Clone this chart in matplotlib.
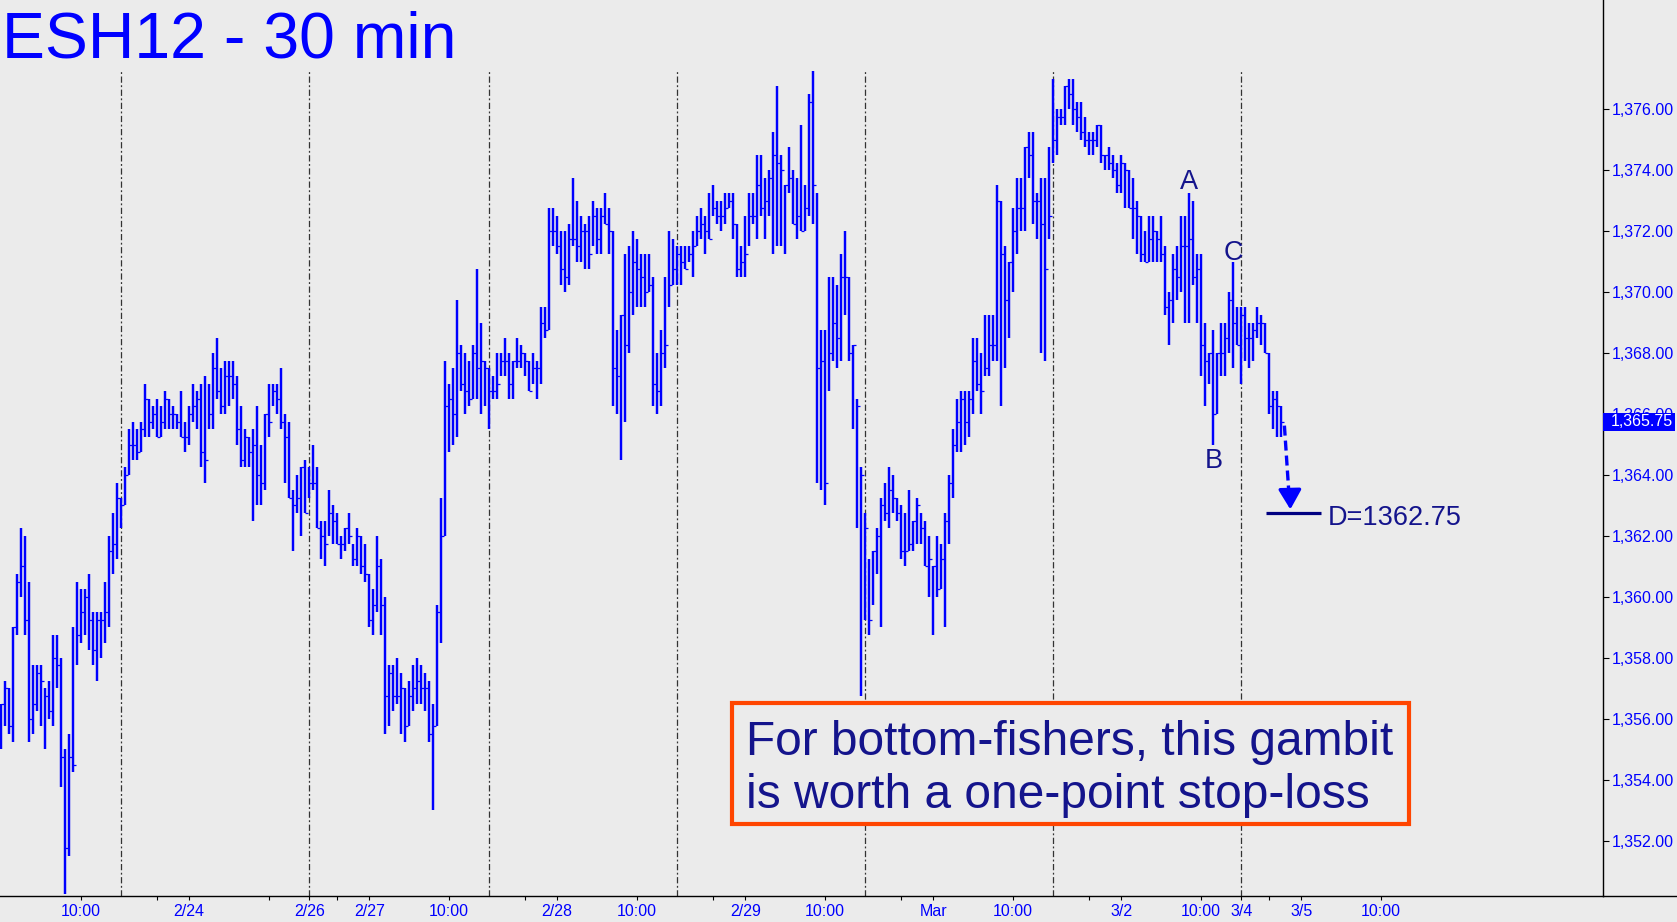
import matplotlib

matplotlib.use("Agg")
import matplotlib.pyplot as plt
from matplotlib.lines import Line2D
from matplotlib.patches import Rectangle
from matplotlib.ticker import FixedLocator, FuncFormatter
from matplotlib.transforms import blended_transform_factory

plt.rcParams["font.family"] = ["Liberation Sans", "DejaVu Sans"]

# ---- data: ESH12 30-minute bars (index = bar number) ----
bar_high = [
    1356.5, 1357.25, 1357.0, 1359.0, 1360.75, 1362.25, 1362.0, 1360.5, 1357.75, 1357.75,
    1357.75, 1357.0, 1357.25, 1358.75, 1358.75, 1358.0, 1355.0, 1355.5, 1359.0, 1360.5,
    1360.25, 1360.25, 1360.75, 1359.5, 1359.5, 1359.5, 1360.5, 1362.0, 1362.75, 1363.75,
    1363.25, 1364.25, 1365.5, 1365.75, 1365.5, 1365.75, 1367.0, 1366.5, 1366.25, 1366.5,
    1366.25, 1366.75, 1366.5, 1366.25, 1366.0, 1366.75, 1365.75, 1366.25, 1367.0, 1366.75,
    1367.0, 1367.25, 1367.0, 1368.0, 1368.5, 1367.5, 1367.75, 1367.75, 1367.75, 1367.25,
    1366.25, 1365.5, 1365.25, 1365.5, 1366.25, 1365.0, 1366.0, 1367.0, 1367.0, 1367.0,
    1367.5, 1366.0, 1365.75, 1363.5, 1364.0, 1364.25, 1364.5, 1364.25, 1365.0, 1364.25,
    1362.5, 1362.5, 1363.5,
    1363.0, 1362.75, 1362.0, 1362.25, 1362.75, 1361.75, 1362.25, 1362.0, 1361.75, 1360.75,
    1360.25, 1362.0, 1361.25, 1360.0, 1357.75, 1357.75, 1358.0, 1357.5, 1357.0, 1357.25,
    1357.75, 1358.0, 1357.75, 1357.5, 1357.25, 1356.5, 1359.75, 1363.25, 1367.75, 1367.0,
    1367.5, 1369.75, 1368.25, 1368.0, 1367.75, 1368.25, 1370.75, 1369.0, 1367.75, 1367.5,
    1367.25, 1368.0, 1368.0, 1368.5, 1368.0, 1367.75, 1368.5, 1368.25, 1368.0, 1367.75,
    1368.0, 1367.75, 1369.5, 1369.5, 1372.75, 1372.75, 1372.5, 1372.0, 1372.0, 1372.25,
    1373.75, 1373.0, 1372.5, 1372.25, 1372.5, 1373.0, 1372.75, 1372.75, 1373.25, 1372.75,
    1372.0, 1368.75, 1369.25, 1371.25, 1371.5, 1372.0, 1371.75, 1371.25, 1371.25, 1371.25,
    1370.5,
    1368.0, 1368.75, 1370.5, 1372.0, 1371.75, 1371.5, 1371.5, 1371.5, 1371.5, 1372.0,
    1372.5, 1372.75, 1372.5, 1373.25, 1373.5, 1373.0, 1373.0, 1373.25, 1373.25, 1373.25,
    1372.25, 1371.5, 1372.5, 1373.25, 1373.25, 1374.5, 1374.5, 1373.75, 1374.0, 1375.25,
    1376.75, 1374.5, 1373.5, 1374.75, 1374.0, 1373.75, 1375.5, 1373.5, 1376.5, 1377.25,
    1373.25, 1368.75,
    1368.75, 1370.5, 1370.5, 1370.25, 1371.25, 1372.0, 1370.5, 1368.25, 1366.5, 1364.25,
    1362.75, 1361.25, 1361.5, 1362.25, 1363.25, 1363.75, 1364.25, 1364.0, 1363.25, 1363.0,
    1362.75, 1363.5, 1362.5, 1363.25, 1362.75, 1362.5, 1362.0, 1361.0, 1362.0, 1361.75,
    1362.75, 1364.0, 1365.5, 1366.5, 1366.75, 1366.75, 1366.75, 1368.5, 1368.5, 1368.0,
    1369.25,
    1369.25, 1369.25, 1373.5, 1373.0, 1371.5, 1371.0, 1372.75, 1373.75, 1373.75, 1374.75,
    1375.25, 1375.25, 1373.25, 1373.75, 1373.75, 1374.75, 1377.0, 1376.0, 1376.0, 1376.75,
    1377.0, 1377.0, 1376.25, 1376.25, 1375.75, 1375.25, 1375.25, 1375.5, 1375.5, 1374.5,
    1374.75, 1374.5, 1374.25, 1374.5, 1374.25, 1374.0, 1373.75, 1373.0, 1372.5, 1372.0,
    1372.5, 1372.5, 1372.0, 1372.5, 1371.5, 1370.0, 1371.25, 1371.5, 1372.5, 1372.5,
    1373.25, 1373.0, 1371.25, 1371.25, 1369.0, 1368.0, 1368.75, 1368.0, 1369.0, 1369.0,
    1370.0, 1371.0, 1369.5, 1369.5, 1369.5, 1369.0, 1369.0, 1369.5, 1369.25, 1369.0,
    1368.0, 1366.75, 1366.75, 1366.25,
]
bar_low = [
    1355.0, 1355.75, 1355.5, 1355.25, 1358.75, 1360.0, 1358.75, 1355.25, 1355.5, 1356.25,
    1355.75, 1355.0, 1356.0, 1355.75, 1357.0, 1353.75, 1350.25, 1351.5, 1354.25, 1357.75,
    1358.5, 1358.75, 1358.25, 1357.75, 1357.25, 1358.0, 1358.5, 1359.0, 1360.75, 1361.25,
    1362.25, 1363.0, 1364.0, 1364.5, 1364.5, 1364.75, 1365.25, 1365.25, 1365.5, 1365.25,
    1365.25, 1365.5, 1365.5, 1365.5, 1365.5, 1365.25, 1364.75, 1365.0, 1365.75, 1365.5,
    1364.25, 1363.75, 1365.5, 1365.5, 1366.5, 1366.0, 1366.0, 1366.25, 1366.5, 1365.0,
    1364.25, 1364.25, 1364.25, 1362.5, 1363.0, 1363.0, 1363.5, 1365.25, 1366.25, 1366.0,
    1365.5, 1363.75, 1363.25, 1361.5, 1362.75, 1362.0, 1362.75, 1363.25, 1363.5, 1362.25,
    1361.25, 1361.0, 1362.0,
    1361.75, 1361.75, 1361.25, 1361.5, 1361.75, 1361.0, 1361.0, 1360.75, 1360.5, 1359.0,
    1358.75, 1359.5, 1358.75, 1355.5, 1355.75, 1356.25, 1356.5, 1355.5, 1355.25, 1355.75,
    1356.25, 1356.5, 1356.5, 1356.25, 1355.25, 1353.0, 1355.75, 1358.5, 1362.0, 1364.75,
    1365.0, 1365.25, 1366.75, 1366.0, 1366.25, 1366.5, 1366.5, 1366.0, 1366.25, 1365.5,
    1366.5, 1366.5, 1367.25, 1367.25, 1366.5, 1366.5, 1367.5, 1367.5, 1367.25, 1366.75,
    1367.0, 1366.5, 1367.0, 1368.5, 1368.75, 1371.5, 1371.25, 1370.25, 1370.0, 1370.25,
    1371.5, 1371.0, 1371.0, 1370.75, 1370.75, 1371.5, 1371.25, 1371.25, 1372.25, 1371.25,
    1366.25, 1366.0, 1364.5, 1365.75, 1368.0, 1369.25, 1369.5, 1369.5, 1369.5, 1370.0,
    1366.25,
    1366.0, 1366.25, 1367.5, 1369.5, 1370.25, 1370.25, 1370.25, 1370.75, 1371.0, 1370.5,
    1371.5, 1371.75, 1371.25, 1371.75, 1372.5, 1372.25, 1372.0, 1372.25, 1372.75, 1371.75,
    1370.5, 1370.5, 1370.5, 1371.5, 1372.25, 1371.75, 1372.5, 1371.75, 1372.5, 1371.25,
    1371.5, 1371.5, 1371.25, 1373.25, 1372.25, 1371.75, 1372.0, 1372.0, 1372.5, 1372.25,
    1363.75, 1363.5,
    1363.0, 1366.75, 1367.75, 1367.5, 1367.75, 1369.25, 1367.75, 1365.5, 1362.25, 1356.75,
    1359.25, 1358.75, 1359.75, 1360.75, 1359.0, 1362.5, 1362.25, 1362.75, 1362.5, 1361.25,
    1361.0, 1361.5, 1361.5, 1361.75, 1361.75, 1361.0, 1360.0, 1358.75, 1360.0, 1360.25,
    1359.0, 1361.75, 1363.25, 1364.75, 1364.75, 1365.0, 1365.25, 1366.0, 1366.75, 1366.0,
    1367.25,
    1367.25, 1367.75, 1367.75, 1366.25, 1367.5, 1368.5, 1370.0, 1371.25, 1372.0, 1372.0,
    1373.75, 1372.25, 1371.75, 1368.0, 1367.75, 1371.75, 1374.25, 1374.5, 1375.5, 1375.5,
    1376.0, 1375.5, 1375.25, 1375.0, 1374.75, 1374.5, 1374.5, 1374.75, 1374.25, 1374.0,
    1374.0, 1373.75, 1373.25, 1373.25, 1372.75, 1372.75, 1371.75, 1371.25, 1371.0, 1371.0,
    1371.0, 1371.0, 1371.0, 1371.0, 1369.25, 1368.25, 1369.0, 1369.75, 1370.0, 1369.0,
    1369.0, 1370.25, 1369.0, 1367.25, 1366.25, 1367.0, 1365.0, 1366.0, 1367.25, 1367.25,
    1368.0, 1367.5, 1368.25, 1367.0, 1367.75, 1367.5, 1367.75, 1368.5, 1368.25, 1368.0,
    1366.0, 1365.5, 1365.25, 1365.25,
]
bar_close = [
    1356.5, 1357.0, 1355.75, 1359.0, 1360.5, 1361.0, 1359.25, 1356.0, 1356.5, 1357.5,
    1357.25, 1356.75, 1356.25, 1358.0, 1357.75, 1354.75, 1351.75, 1354.75, 1354.5, 1358.75,
    1359.5, 1360.0, 1359.25, 1358.25, 1359.25, 1359.25, 1359.5, 1361.5, 1361.75, 1363.25,
    1363.0, 1364.0, 1365.0, 1365.0, 1364.75, 1365.5, 1366.5, 1365.75, 1366.0, 1365.25,
    1365.75, 1366.5, 1366.0, 1366.0, 1365.75, 1365.25, 1365.25, 1366.0, 1366.25, 1366.5,
    1364.75, 1364.5, 1366.0, 1367.5, 1366.75, 1366.25, 1367.25, 1367.25, 1367.0, 1365.5,
    1364.5, 1365.25, 1364.75, 1365.0, 1364.0, 1363.75, 1366.0, 1365.75, 1366.75, 1366.5,
    1365.75, 1365.25, 1363.25, 1363.0, 1363.25, 1364.25, 1362.75, 1363.75, 1363.75, 1362.25,
    1362.0, 1361.75, 1362.75,
    1362.5, 1361.75, 1361.75, 1362.25, 1362.0, 1361.25, 1362.0, 1361.0, 1360.75, 1359.25,
    1359.75, 1361.0, 1359.75, 1356.75, 1357.5, 1356.75, 1356.75, 1357.0, 1355.75, 1356.75,
    1357.0, 1357.25, 1357.0, 1357.0, 1355.5, 1355.75, 1359.5, 1362.0, 1366.25, 1366.5,
    1366.0, 1368.0, 1367.0, 1366.75, 1366.5, 1368.0, 1367.5, 1367.75, 1367.5, 1366.75,
    1366.75, 1367.0, 1367.75, 1367.75, 1367.0, 1367.75, 1367.75, 1368.0, 1367.75, 1366.75,
    1367.5, 1367.5, 1369.0, 1368.75, 1372.0, 1372.0, 1371.5, 1370.75, 1370.5, 1371.75,
    1371.75, 1371.5, 1372.0, 1372.0, 1371.25, 1372.5, 1371.75, 1372.5, 1372.25, 1372.0,
    1367.5, 1367.25, 1369.25, 1368.25, 1370.0, 1371.0, 1370.75, 1370.5, 1370.0, 1370.25,
    1367.0,
    1366.75, 1368.0, 1368.25, 1370.25, 1370.75, 1371.25, 1371.0, 1370.75, 1371.25, 1371.5,
    1372.0, 1372.25, 1372.0, 1371.75, 1372.75, 1372.5, 1372.5, 1372.75, 1373.0, 1372.25,
    1370.75, 1371.0, 1371.25, 1372.5, 1372.5, 1373.5, 1372.75, 1373.0, 1373.75, 1374.5,
    1374.25, 1374.0, 1373.5, 1373.75, 1372.25, 1372.5, 1372.0, 1372.75, 1376.25, 1373.5,
    1367.5, 1367.75,
    1363.75, 1368.0, 1369.0, 1368.5, 1370.5, 1370.5, 1368.0, 1368.25, 1366.25, 1364.0,
    1362.25, 1359.25, 1361.5, 1362.0, 1363.0, 1362.75, 1363.5, 1363.25, 1362.75, 1361.5,
    1361.5, 1361.75, 1362.5, 1363.0, 1362.25, 1361.0, 1361.25, 1361.0, 1360.25, 1361.25,
    1362.5, 1363.75, 1365.0, 1365.75, 1366.5, 1365.75, 1366.5, 1367.75, 1367.0, 1366.75,
    1367.5,
    1368.25, 1368.25, 1373.0, 1371.25, 1369.75, 1371.0, 1372.0, 1372.75, 1372.75, 1374.75,
    1374.5, 1373.0, 1373.0, 1372.25, 1370.75, 1372.5, 1375.0, 1375.75, 1375.75, 1376.75,
    1376.5, 1376.0, 1375.75, 1375.25, 1375.0, 1375.0, 1375.0, 1375.5, 1374.5, 1374.5,
    1374.25, 1374.0, 1373.5, 1374.25, 1374.0, 1372.75, 1372.75, 1372.5, 1371.25, 1371.0,
    1371.75, 1372.0, 1371.75, 1371.25, 1369.5, 1369.75, 1370.75, 1370.5, 1371.5, 1371.5,
    1371.75, 1370.5, 1370.75, 1368.25, 1367.75, 1368.0, 1366.0, 1368.0, 1368.0, 1368.5,
    1369.75, 1369.0, 1368.25, 1369.25, 1368.5, 1368.5, 1368.75, 1369.0, 1369.0, 1368.0,
    1366.25, 1366.5, 1366.25, 1365.75,
]

# time axis (bar index positions)
major_pos = [20, 47, 77, 92, 112, 139, 159, 186, 206, 233, 253, 280, 300, 310, 325, 345]
major_lbl = ["10:00", "2/24", "2/26", "2/27", "10:00", "2/28", "10:00", "2/29", "10:00",
             "Mar", "10:00", "3/2", "10:00", "3/4", "3/5", "10:00"]
minor_pos = [39, 67, 84, 131, 178, 225, 272, 317]
session_breaks = [30, 77, 122, 169, 216, 263, 310]

# wave labels: (bar, price baseline, text)
wave_labels = [(296.9, 1373.38, "A"), (303.1, 1364.22, "B"), (308.1, 1371.06, "C")]
target_d = 1362.75
last_price = bar_close[-1]

BG = "#ebebeb"
BLUE = "#0000ff"
NAVY = "#14148c"
W, H = 1677, 922

fig = plt.figure(figsize=(W / 100, H / 100), dpi=100, facecolor=BG)
ax = fig.add_axes([0, 26 / H, 1603 / W, 896 / H], facecolor=BG)

n = len(bar_high)
xs = list(range(n))
ax.vlines(xs, bar_low, bar_high, colors=BLUE, lw=1.75, zorder=3)
ax.hlines(bar_close, xs, [x + 0.6 for x in xs], colors=BLUE, lw=0.9, zorder=3)

ax.set_xlim(-0.3, 400.45)
ax.set_ylim(1350.185, 1379.587)

# session separators
ax.vlines(session_breaks, 1350.185, max(bar_high), colors="#333333", lw=0.9,
          linestyles=(0, (5, 2, 1.5, 2)), zorder=1)

for s in ("top", "left"):
    ax.spines[s].set_visible(False)
ax.spines["right"].set_linewidth(1.0)
ax.spines["bottom"].set_linewidth(1.0)
fig.add_artist(Line2D([1603 / W, 1], [26 / H, 26 / H], color="black", lw=1.0))

ax.yaxis.tick_right()
ax.yaxis.set_major_locator(FixedLocator([1352 + 2 * k for k in range(13)]))
ax.yaxis.set_major_formatter(FuncFormatter(lambda v, p: f"{v:,.2f}"))
ax.tick_params(axis="y", direction="out", length=4.5, width=0.8, pad=1.5,
               labelsize=11.5, labelcolor=BLUE)

ax.xaxis.set_major_locator(FixedLocator(major_pos))
ax.xaxis.set_minor_locator(FixedLocator(minor_pos))
ax.set_xticklabels(major_lbl)
ax.tick_params(axis="x", which="both", direction="out", length=3, width=0.8, pad=3,
               labelsize=11.5, labelcolor=BLUE)

# last price marker on the price axis (covers the 1,366.00 label, as in the source)
tr = blended_transform_factory(ax.transAxes, ax.transData)
ax.add_patch(Rectangle((1.0, last_price - 0.29), 72 / 1603, 0.58, transform=tr,
                       facecolor=BLUE, edgecolor="none", clip_on=False, zorder=5))
ax.text(1.0 + 8 / 1603, last_price, f"{last_price:,.2f}", transform=tr, color="white",
        fontsize=11.5, va="center", ha="left", clip_on=False, zorder=6)

# wave labels
for bx, py, t in wave_labels:
    ax.text(bx, py, t, color=NAVY, fontsize=19.5, ha="center", va="baseline", zorder=4)

# target D
ax.hlines(target_d, 316.25, 330, colors="#000080", lw=2.3, zorder=4)
ax.text(331.7, target_d - 0.39, f"D={target_d}", color=NAVY, fontsize=19.5,
        ha="left", va="baseline", zorder=4)
ax.plot([320.8, 322.0], [last_price - 0.13, target_d + 0.5], color=BLUE, lw=2.4,
        dashes=(3, 1.5), zorder=4)
ax.annotate("", xy=(322.3, target_d + 0.03), xytext=(322.2, target_d + 0.6),
            arrowprops=dict(arrowstyle="-|>,head_length=0.6,head_width=0.35",
                            color=BLUE, lw=2.4, mutation_scale=20), zorder=4)

# title
fig.text(2.2 / W, 1 - 58 / H, "ESH12 - 30 min", fontsize=46.4, color=BLUE,
         ha="left", va="baseline")

# comment box
fig.add_artist(Rectangle((731.5 / W, 1 - 823.5 / H), 677 / W, 121 / H,
                         transform=fig.transFigure, facecolor=BG,
                         edgecolor="#ff4500", lw=3))
fig.text(746.5 / W, 1 - 755 / H, "For bottom-fishers, this gambit", fontsize=34.5,
         color=NAVY, ha="left", va="baseline")
fig.text(746.5 / W, 1 - 808 / H, "is worth a one-point stop-loss", fontsize=34.5,
         color=NAVY, ha="left", va="baseline")

fig.savefig("out.png", dpi=100, facecolor=BG)
